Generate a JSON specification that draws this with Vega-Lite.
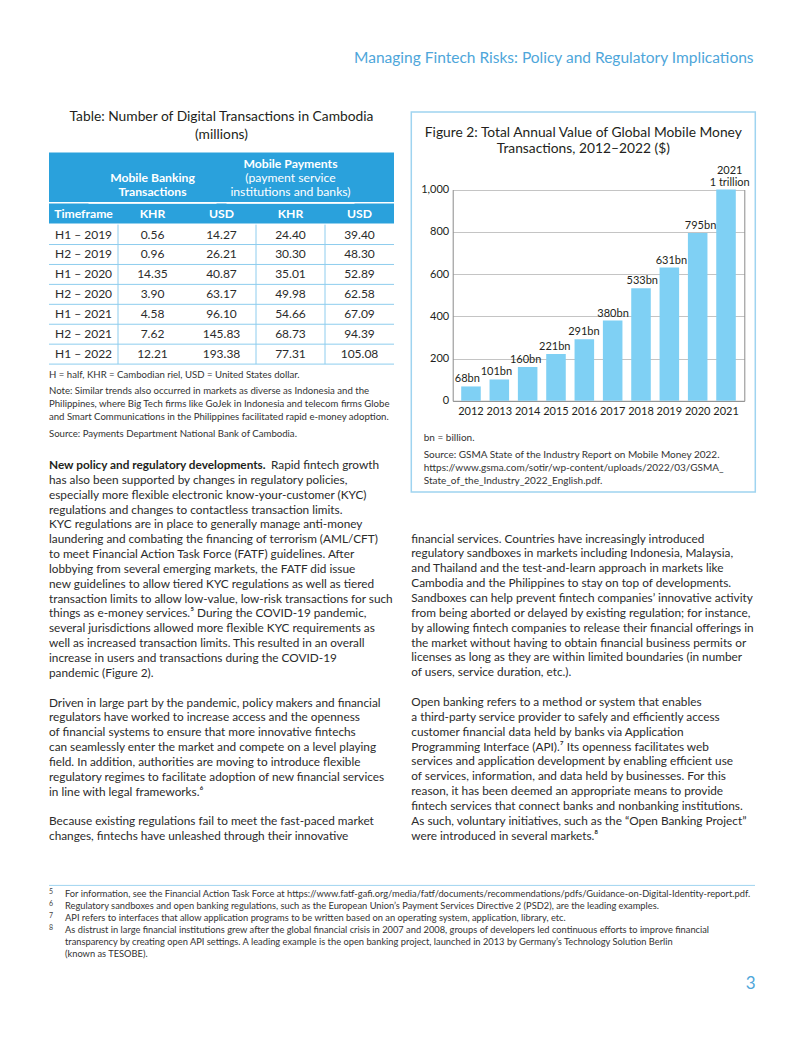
{
  "$schema": "https://vega.github.io/schema/vega-lite/v6.json",
  "background": "white",
  "padding": {"left": 48, "top": 50, "right": 0, "bottom": 0},
  "autosize": {"type": "pad"},
  "title": {"text": "Managing Fintech Risks: Policy and Regulatory Implications", "anchor": "end", "font": "Lato", "fontSize": 15.5, "fontWeight": "normal", "color": "#4ea6da", "baseline": "alphabetic", "offset": 31.6, "dx": -2.5},
  "config": {
    "view": {"stroke": null},
    "font": "Lato",
    "text": {"font": "Lato", "color": "#2b2b2b"},
    "axis": {"labelFont": "Lato"},
    "title": {"font": "Lato"}
  },
  "datasets": {
    "cambodia": [
      {"Timeframe": "H1 – 2019", "KHR_MB": 0.56, "USD_MB": 14.27, "KHR_MP": 24.40, "USD_MP": 39.40},
      {"Timeframe": "H2 – 2019", "KHR_MB": 0.96, "USD_MB": 26.21, "KHR_MP": 30.30, "USD_MP": 48.30},
      {"Timeframe": "H1 – 2020", "KHR_MB": 14.35, "USD_MB": 40.87, "KHR_MP": 35.01, "USD_MP": 52.89},
      {"Timeframe": "H2 – 2020", "KHR_MB": 3.90, "USD_MB": 63.17, "KHR_MP": 49.98, "USD_MP": 62.58},
      {"Timeframe": "H1 – 2021", "KHR_MB": 4.58, "USD_MB": 96.10, "KHR_MP": 54.66, "USD_MP": 67.09},
      {"Timeframe": "H2 – 2021", "KHR_MB": 7.62, "USD_MB": 145.83, "KHR_MP": 68.73, "USD_MP": 94.39},
      {"Timeframe": "H1 – 2022", "KHR_MB": 12.21, "USD_MB": 193.38, "KHR_MP": 77.31, "USD_MP": 105.08}
    ],
    "tableTitle": [
      {"line": "1", "text": "Table: Number of Digital Transactions in Cambodia"},
      {"line": "2", "text": "(millions)"}
    ],
    "groupHeads": [
      {"col": "KHR_MB", "line": "2", "kind": "heading", "text": "Mobile Banking"},
      {"col": "KHR_MB", "line": "3", "kind": "heading", "text": "Transactions"},
      {"col": "KHR_MP", "line": "1", "kind": "heading", "text": "Mobile Payments"},
      {"col": "KHR_MP", "line": "2", "kind": "sub", "text": "(payment service"},
      {"col": "KHR_MP", "line": "3", "kind": "sub", "text": "institutions and banks)"}
    ],
    "colHeads": [
      {"col": "Timeframe", "label": "Timeframe"},
      {"col": "KHR_MB", "label": "KHR"},
      {"col": "USD_MB", "label": "USD"},
      {"col": "KHR_MP", "label": "KHR"},
      {"col": "USD_MP", "label": "USD"}
    ],
    "tableNotes": [
      {"para": 1, "line": "1", "text": "H = half, KHR = Cambodian riel, USD = United States dollar."},
      {"para": 2, "line": "1", "text": "Note: Similar trends also occurred in markets as diverse as Indonesia and the"},
      {"para": 2, "line": "2", "text": "Philippines, where Big Tech firms like GoJek in Indonesia and telecom firms Globe"},
      {"para": 2, "line": "3", "text": "and Smart Communications in the Philippines facilitated rapid e-money adoption."},
      {"para": 3, "line": "1", "text": "Source: Payments Department National Bank of Cambodia."}
    ],
    "mobileMoney": [
      {"year": "2012", "value": 68, "label": "68bn", "upper": ""},
      {"year": "2013", "value": 101, "label": "101bn", "upper": ""},
      {"year": "2014", "value": 160, "label": "160bn", "upper": ""},
      {"year": "2015", "value": 221, "label": "221bn", "upper": ""},
      {"year": "2016", "value": 291, "label": "291bn", "upper": ""},
      {"year": "2017", "value": 380, "label": "380bn", "upper": ""},
      {"year": "2018", "value": 533, "label": "533bn", "upper": ""},
      {"year": "2019", "value": 631, "label": "631bn", "upper": ""},
      {"year": "2020", "value": 795, "label": "795bn", "upper": ""},
      {"year": "2021", "value": 1000, "label": "1 trillion", "upper": "2021"}
    ],
    "figNotes": [
      {"para": 1, "line": "1", "text": "bn = billion."},
      {"para": 2, "line": "2", "text": "Source: GSMA State of the Industry Report on Mobile Money 2022."},
      {"para": 2, "line": "3", "text": "https://www.gsma.com/sotir/wp-content/uploads/2022/03/GSMA_"},
      {"para": 2, "line": "4", "text": "State_of_the_Industry_2022_English.pdf."}
    ],
    "bodyLeft": [
      {"line": 1, "part": "bold", "text": "New policy and regulatory developments."},
      {"line": 1, "part": "cont", "text": "Rapid fintech growth"},
      {"line": 2, "part": "main", "text": "has also been supported by changes in regulatory policies,"},
      {"line": 3, "part": "main", "text": "especially more flexible electronic know-your-customer (KYC)"},
      {"line": 4, "part": "main", "text": "regulations and changes to contactless transaction limits."},
      {"line": 5, "part": "main", "text": "KYC regulations are in place to generally manage anti-money"},
      {"line": 6, "part": "main", "text": "laundering and combating the financing of terrorism (AML/CFT)"},
      {"line": 7, "part": "main", "text": "to meet Financial Action Task Force (FATF) guidelines. After"},
      {"line": 8, "part": "main", "text": "lobbying from several emerging markets, the FATF did issue"},
      {"line": 9, "part": "main", "text": "new guidelines to allow tiered KYC regulations as well as tiered"},
      {"line": 10, "part": "main", "text": "transaction limits to allow low-value, low-risk transactions for such"},
      {"line": 11, "part": "main", "text": "things as e-money services.⁵ During the COVID-19 pandemic,"},
      {"line": 12, "part": "main", "text": "several jurisdictions allowed more flexible KYC requirements as"},
      {"line": 13, "part": "main", "text": "well as increased transaction limits. This resulted in an overall"},
      {"line": 14, "part": "main", "text": "increase in users and transactions during the COVID-19"},
      {"line": 15, "part": "main", "text": "pandemic (Figure 2)."},
      {"line": 16, "part": "main", "text": ""},
      {"line": 17, "part": "main", "text": "Driven in large part by the pandemic, policy makers and financial"},
      {"line": 18, "part": "main", "text": "regulators have worked to increase access and the openness"},
      {"line": 19, "part": "main", "text": "of financial systems to ensure that more innovative fintechs"},
      {"line": 20, "part": "main", "text": "can seamlessly enter the market and compete on a level playing"},
      {"line": 21, "part": "main", "text": "field. In addition, authorities are moving to introduce flexible"},
      {"line": 22, "part": "main", "text": "regulatory regimes to facilitate adoption of new financial services"},
      {"line": 23, "part": "main", "text": "in line with legal frameworks.⁶"},
      {"line": 24, "part": "main", "text": ""},
      {"line": 25, "part": "main", "text": "Because existing regulations fail to meet the fast-paced market"},
      {"line": 26, "part": "main", "text": "changes, fintechs have unleashed through their innovative"}
    ],
    "bodyRight": [
      {"line": 1, "text": "financial services. Countries have increasingly introduced"},
      {"line": 2, "text": "regulatory sandboxes in markets including Indonesia, Malaysia,"},
      {"line": 3, "text": "and Thailand and the test-and-learn approach in markets like"},
      {"line": 4, "text": "Cambodia and the Philippines to stay on top of developments."},
      {"line": 5, "text": "Sandboxes can help prevent fintech companies’ innovative activity"},
      {"line": 6, "text": "from being aborted or delayed by existing regulation; for instance,"},
      {"line": 7, "text": "by allowing fintech companies to release their financial offerings in"},
      {"line": 8, "text": "the market without having to obtain financial business permits or"},
      {"line": 9, "text": "licenses as long as they are within limited boundaries (in number"},
      {"line": 10, "text": "of users, service duration, etc.)."},
      {"line": 11, "text": ""},
      {"line": 12, "text": "Open banking refers to a method or system that enables"},
      {"line": 13, "text": "a third-party service provider to safely and efficiently access"},
      {"line": 14, "text": "customer financial data held by banks via Application"},
      {"line": 15, "text": "Programming Interface (API).⁷ Its openness facilitates web"},
      {"line": 16, "text": "services and application development by enabling efficient use"},
      {"line": 17, "text": "of services, information, and data held by businesses. For this"},
      {"line": 18, "text": "reason, it has been deemed an appropriate means to provide"},
      {"line": 19, "text": "fintech services that connect banks and nonbanking institutions."},
      {"line": 20, "text": "As such, voluntary initiatives, such as the “Open Banking Project”"},
      {"line": 21, "text": "were introduced in several markets.⁸"}
    ],
    "footnotes": [
      {"line": "1", "num": "5", "text": "For information, see the Financial Action Task Force at https://www.fatf-gafi.org/media/fatf/documents/recommendations/pdfs/Guidance-on-Digital-Identity-report.pdf."},
      {"line": "2", "num": "6", "text": "Regulatory sandboxes and open banking regulations, such as the European Union’s Payment Services Directive 2 (PSD2), are the leading examples."},
      {"line": "3", "num": "7", "text": "API refers to interfaces that allow application programs to be written based on an operating system, application, library, etc."},
      {"line": "4", "num": "8", "text": "As distrust in large financial institutions grew after the global financial crisis in 2007 and 2008, groups of developers led continuous efforts to improve financial"},
      {"line": "5", "num": "", "text": "transparency by creating open API settings. A leading example is the open banking project, launched in 2013 by Germany’s Technology Solution Berlin"},
      {"line": "6", "num": "", "text": "(known as TESOBE)."}
    ]
  },
  "spacing": 32.4,
  "vconcat": [
    {
      "spacing": 15.3,
      "hconcat": [
        {
          "spacing": 16.6,
          "vconcat": [
            {
              "spacing": 3.3,
              "vconcat": [
                {
                  "spacing": 10.6,
                  "vconcat": [
                    {
                      "width": 345, "height": 27.6,
                      "data": {"name": "tableTitle"},
                      "mark": {"type": "text", "fontSize": 13.8, "color": "#231f20", "baseline": "middle", "align": "center"},
                      "encoding": {
                        "x": {"datum": "title", "type": "nominal", "scale": {"type": "band", "paddingInner": 0, "paddingOuter": 0}, "axis": null},
                        "y": {"field": "line", "type": "ordinal", "scale": {"type": "point", "padding": 0.284}, "axis": null},
                        "text": {"field": "text"}
                      }
                    },
                    {
                      "spacing": 0,
                      "vconcat": [
                        {
                          "width": 345, "height": 49.4,
                          "view": {"fill": "#2aa1dc", "stroke": null},
                          "data": {"name": "groupHeads"},
                          "encoding": {
                            "x": {"field": "col", "type": "nominal", "bandPosition": 1, "scale": {"domain": ["Timeframe", "KHR_MB", "USD_MB", "KHR_MP", "USD_MP"], "paddingInner": 0, "paddingOuter": 0}, "axis": null},
                            "y": {"field": "line", "type": "ordinal", "scale": {"type": "point", "domain": ["1", "2", "3"], "padding": 0.746, "align": 0.52}, "axis": null},
                            "text": {"field": "text"}
                          },
                          "layer": [
                            {"transform": [{"filter": "datum.kind === 'heading'"}], "mark": {"type": "text", "color": "white", "fontWeight": "bold", "fontSize": 12.2, "align": "center", "baseline": "middle"}},
                            {"transform": [{"filter": "datum.kind === 'sub'"}], "mark": {"type": "text", "color": "white", "fontSize": 12.2, "align": "center", "baseline": "middle"}}
                          ]
                        },
                        {
                          "width": 345, "height": 20,
                          "view": {"fill": "#2aa1dc", "stroke": null},
                          "layer": [
                            {
                              "data": {"name": "groupHeads"},
                              "transform": [{"filter": "datum.line === '3'"}],
                              "mark": {"type": "tick", "orient": "horizontal", "color": "white", "size": 128, "thickness": 1},
                              "encoding": {
                                "x": {"field": "col", "type": "nominal", "bandPosition": 1, "scale": {"domain": ["Timeframe", "KHR_MB", "USD_MB", "KHR_MP", "USD_MP"], "paddingInner": 0, "paddingOuter": 0}, "axis": null},
                                "y": {"datum": "sub", "type": "nominal", "bandPosition": 0, "scale": {"type": "band", "paddingInner": 0, "paddingOuter": 0}, "axis": null}
                              }
                            },
                            {
                              "data": {"name": "colHeads"},
                              "mark": {"type": "text", "color": "white", "fontWeight": "bold", "fontSize": 12.2, "align": "center", "baseline": "middle"},
                              "encoding": {
                                "x": {"field": "col", "type": "nominal", "scale": {"domain": ["Timeframe", "KHR_MB", "USD_MB", "KHR_MP", "USD_MP"], "paddingInner": 0, "paddingOuter": 0}, "axis": null},
                                "y": {"datum": "sub", "type": "nominal", "scale": {"type": "band", "paddingInner": 0, "paddingOuter": 0}, "axis": null},
                                "text": {"field": "label"}
                              }
                            }
                          ]
                        },
                        {
                          "width": 345, "height": 139.5,
                          "data": {"name": "cambodia"},
                          "layer": [
                            {
                              "mark": {"type": "rule", "color": "#8ecdee", "strokeWidth": 1},
                              "encoding": {
                                "y": {"field": "Timeframe", "type": "ordinal", "bandPosition": 1, "scale": {"domain": ["H1 – 2019", "H2 – 2019", "H1 – 2020", "H2 – 2020", "H1 – 2021", "H2 – 2021", "H1 – 2022"], "paddingInner": 0, "paddingOuter": 0}, "axis": null}
                              }
                            },
                            {
                              "transform": [
                                {"fold": ["KHR_MB", "USD_MB", "KHR_MP", "USD_MP"], "as": ["col", "val"]},
                                {"filter": {"field": "col", "oneOf": ["KHR_MB", "KHR_MP", "USD_MP"]}},
                                {"aggregate": [{"op": "count", "as": "n"}], "groupby": ["col"]}
                              ],
                              "mark": {"type": "rule", "color": "#8ecdee", "strokeWidth": 1},
                              "encoding": {
                                "x": {"field": "col", "type": "nominal", "bandPosition": 0, "scale": {"domain": ["Timeframe", "KHR_MB", "USD_MB", "KHR_MP", "USD_MP"], "paddingInner": 0, "paddingOuter": 0}, "axis": null}
                              }
                            },
                            {
                              "mark": {"type": "text", "align": "left", "dx": 6, "fontSize": 12, "baseline": "middle", "color": "#2b2b2b"},
                              "encoding": {
                                "x": {"datum": "Timeframe", "type": "nominal", "bandPosition": 0, "scale": {"domain": ["Timeframe", "KHR_MB", "USD_MB", "KHR_MP", "USD_MP"], "paddingInner": 0, "paddingOuter": 0}, "axis": null},
                                "y": {"field": "Timeframe", "type": "ordinal", "scale": {"domain": ["H1 – 2019", "H2 – 2019", "H1 – 2020", "H2 – 2020", "H1 – 2021", "H2 – 2021", "H1 – 2022"], "paddingInner": 0, "paddingOuter": 0}, "axis": null},
                                "text": {"field": "Timeframe"}
                              }
                            },
                            {
                              "transform": [{"fold": ["KHR_MB", "USD_MB", "KHR_MP", "USD_MP"], "as": ["col", "val"]}],
                              "mark": {"type": "text", "align": "center", "fontSize": 12, "baseline": "middle", "color": "#2b2b2b"},
                              "encoding": {
                                "x": {"field": "col", "type": "nominal", "scale": {"domain": ["Timeframe", "KHR_MB", "USD_MB", "KHR_MP", "USD_MP"], "paddingInner": 0, "paddingOuter": 0}, "axis": null},
                                "y": {"field": "Timeframe", "type": "ordinal", "scale": {"domain": ["H1 – 2019", "H2 – 2019", "H1 – 2020", "H2 – 2020", "H1 – 2021", "H2 – 2021", "H1 – 2022"], "paddingInner": 0, "paddingOuter": 0}, "axis": null},
                                "text": {"field": "val", "type": "quantitative", "format": ".2f"}
                              }
                            }
                          ]
                        }
                      ]
                    }
                  ]
                },
                {
                  "spacing": 3.5,
                  "vconcat": [
                    {
                      "width": 345, "height": 13,
                      "data": {"name": "tableNotes"},
                      "transform": [{"filter": "datum.para === 1"}],
                      "mark": {"type": "text", "align": "left", "baseline": "middle", "fontSize": 9.6, "color": "#333333"},
                      "encoding": {
                        "x": {"datum": "left", "type": "nominal", "bandPosition": 0, "scale": {"type": "band", "paddingInner": 0, "paddingOuter": 0}, "axis": null},
                        "y": {"field": "line", "type": "ordinal", "scale": {"paddingInner": 0, "paddingOuter": 0}, "axis": null}, "text": {"field": "text"}}
                    },
                    {
                      "width": 345, "height": 39,
                      "data": {"name": "tableNotes"},
                      "transform": [{"filter": "datum.para === 2"}],
                      "mark": {"type": "text", "align": "left", "baseline": "middle", "fontSize": 9.6, "color": "#333333"},
                      "encoding": {
                        "x": {"datum": "left", "type": "nominal", "bandPosition": 0, "scale": {"type": "band", "paddingInner": 0, "paddingOuter": 0}, "axis": null},
                        "y": {"field": "line", "type": "ordinal", "scale": {"paddingInner": 0, "paddingOuter": 0}, "axis": null}, "text": {"field": "text"}}
                    },
                    {
                      "width": 345, "height": 13,
                      "data": {"name": "tableNotes"},
                      "transform": [{"filter": "datum.para === 3"}],
                      "mark": {"type": "text", "align": "left", "baseline": "middle", "fontSize": 9.6, "color": "#333333"},
                      "encoding": {
                        "x": {"datum": "left", "type": "nominal", "bandPosition": 0, "scale": {"type": "band", "paddingInner": 0, "paddingOuter": 0}, "axis": null},
                        "y": {"field": "line", "type": "ordinal", "scale": {"paddingInner": 0, "paddingOuter": 0}, "axis": null}, "text": {"field": "text"}}
                    }
                  ]
                }
              ]
            },
            {
              "width": 345, "height": 386,
              "data": {"name": "bodyLeft"},
              "encoding": {
                "x": {"datum": "left", "type": "nominal", "bandPosition": 0, "scale": {"type": "band", "paddingInner": 0, "paddingOuter": 0}, "axis": null},
                "y": {"field": "line", "type": "ordinal", "scale": {"paddingInner": 0, "paddingOuter": 0}, "axis": null},
                "text": {"field": "text"}
              },
              "layer": [
                {"transform": [{"filter": "datum.part === 'bold'"}], "mark": {"type": "text", "align": "left", "baseline": "middle", "fontSize": 11.8, "fontWeight": "bold", "color": "#231f20"}},
                {"transform": [{"filter": "datum.part === 'cont'"}], "mark": {"type": "text", "align": "left", "baseline": "middle", "fontSize": 11.8, "dx": 222, "color": "#2b2b2b"}},
                {"transform": [{"filter": "datum.part === 'main'"}], "mark": {"type": "text", "align": "left", "baseline": "middle", "fontSize": 11.8, "color": "#2b2b2b"}}
              ]
            }
          ]
        },
        {
          "spacing": 38.15,
          "vconcat": [
            {
              "width": 344, "height": 380,
              "view": {"stroke": "#9fd4f0", "strokeWidth": 1.5},
              "title": {"text": ["Figure 2: Total Annual Value of Global Mobile Money", "Transactions, 2012–2022 ($)"], "fontSize": 13.8, "fontWeight": "normal", "color": "#231f20", "baseline": "top", "offset": -44, "lineHeight": 16},
              "layer": [
                {
                  "data": {"name": "mobileMoney"},
                  "mark": {"type": "bar", "color": "#7fd0f4"},
                  "encoding": {
                    "x": {"field": "year", "type": "nominal", "scale": {"range": [41.4, 333], "paddingInner": 0.31, "paddingOuter": 0.3},
                      "axis": {"orient": "bottom", "offset": -91.2, "title": null, "labelAngle": 0, "ticks": false, "labelPadding": 5, "labelFontSize": 11, "labelColor": "#231f20", "domainColor": "#8a8a8a"}},
                    "y": {"field": "value", "type": "quantitative", "scale": {"domain": [0, 1000], "nice": false, "range": [288.8, 77.6]},
                      "axis": {"orient": "left", "offset": -41.4, "title": null, "values": [0, 200, 400, 600, 800, 1000], "format": ",d", "ticks": false, "labelPadding": 4, "labelFontSize": 11, "labelColor": "#231f20", "domainColor": "#8a8a8a", "grid": true, "gridColor": "#c4c4c4"}}
                  }
                },
                {
                  "data": {"name": "mobileMoney"},
                  "mark": {"type": "text", "baseline": "bottom", "dy": -2, "fontSize": 11, "color": "#231f20"},
                  "encoding": {
                    "x": {"field": "year", "type": "nominal", "scale": {"range": [41.4, 333], "paddingInner": 0.31, "paddingOuter": 0.3}, "axis": null},
                    "y": {"field": "value", "type": "quantitative", "scale": {"domain": [0, 1000], "nice": false, "range": [288.8, 77.6]},
                      "axis": {"orient": "right", "offset": -11, "title": null, "labels": false, "ticks": false, "grid": false, "domainColor": "#8a8a8a"}},
                    "text": {"field": "label"}
                  }
                },
                {
                  "data": {"name": "mobileMoney"},
                  "transform": [{"filter": "datum.upper !== ''"}],
                  "mark": {"type": "text", "baseline": "bottom", "dy": -13.5, "fontSize": 11, "color": "#231f20"},
                  "encoding": {
                    "x": {"field": "year", "type": "nominal", "scale": {"domain": ["2012", "2013", "2014", "2015", "2016", "2017", "2018", "2019", "2020", "2021"], "range": [41.4, 333], "paddingInner": 0.31, "paddingOuter": 0.3}, "axis": null},
                    "y": {"field": "value", "type": "quantitative", "scale": {"domain": [0, 1000], "nice": false, "range": [288.8, 77.6]}, "axis": null},
                    "text": {"field": "upper"}
                  }
                },
                {
                  "data": {"name": "figNotes"},
                  "transform": [{"filter": "datum.para === 1"}],
                  "mark": {"type": "text", "align": "left", "baseline": "middle", "dx": 12.4, "fontSize": 10, "color": "#333333"},
                  "encoding": {
                    "x": {"datum": "left", "type": "nominal", "bandPosition": 0, "scale": {"type": "band", "paddingInner": 0, "paddingOuter": 0}, "axis": null},
                    "y": {"field": "line", "type": "ordinal", "scale": {"type": "point", "padding": 0, "range": [320, 332]}, "axis": null},
                    "text": {"field": "text"}
                  }
                },
                {
                  "data": {"name": "figNotes"},
                  "transform": [{"filter": "datum.para === 2"}],
                  "mark": {"type": "text", "align": "left", "baseline": "middle", "dx": 12.4, "fontSize": 10, "color": "#333333"},
                  "encoding": {
                    "x": {"datum": "left", "type": "nominal", "bandPosition": 0, "scale": {"type": "band", "paddingInner": 0, "paddingOuter": 0}, "axis": null},
                    "y": {"field": "line", "type": "ordinal", "scale": {"type": "point", "padding": 0, "range": [342.6, 369.3]}, "axis": null},
                    "text": {"field": "text"}
                  }
                }
              ],
              "resolve": {"scale": {"x": "independent", "y": "independent"}, "axis": {"x": "independent", "y": "independent"}}
            },
            {
              "width": 344, "height": 312,
              "data": {"name": "bodyRight"},
              "mark": {"type": "text", "align": "left", "baseline": "middle", "fontSize": 11.8, "color": "#2b2b2b"},
              "encoding": {
                "x": {"datum": "left", "type": "nominal", "bandPosition": 0, "scale": {"type": "band", "paddingInner": 0, "paddingOuter": 0}, "axis": null},
                "y": {"field": "line", "type": "ordinal", "scale": {"paddingInner": 0, "paddingOuter": 0}, "axis": null},
                "text": {"field": "text"}
              }
            }
          ]
        }
      ]
    },
    {
      "width": 706, "height": 84,
      "data": {"name": "footnotes"},
      "title": {"text": "3", "orient": "bottom", "anchor": "end", "fontSize": 17, "fontWeight": "normal", "color": "#4ea6da", "baseline": "top", "offset": 15.5},
      "encoding": {
        "x": {"datum": "left", "type": "nominal", "bandPosition": 0, "scale": {"type": "band", "paddingInner": 0, "paddingOuter": 0}, "axis": null}
      },
      "layer": [
        {
          "transform": [{"filter": "datum.line === '1'"}],
          "mark": {"type": "rule", "color": "#9fd4f0", "strokeWidth": 1},
          "encoding": {
            "x": null,
            "y": {"datum": "sep", "type": "ordinal", "bandPosition": 0.75, "scale": {"domain": ["sep", "1", "2", "3", "4", "5", "6"], "paddingInner": 0, "paddingOuter": 0}, "axis": null}}
        },
        {
          "mark": {"type": "text", "align": "left", "baseline": "middle", "fontSize": 7, "dy": -2, "color": "#444444"},
          "encoding": {"y": {"field": "line", "type": "ordinal", "scale": {"domain": ["sep", "1", "2", "3", "4", "5", "6"], "paddingInner": 0, "paddingOuter": 0}, "axis": null}, "text": {"field": "num"}}
        },
        {
          "mark": {"type": "text", "align": "left", "baseline": "middle", "fontSize": 9.3, "dx": 16, "color": "#333333"},
          "encoding": {"y": {"field": "line", "type": "ordinal", "scale": {"domain": ["sep", "1", "2", "3", "4", "5", "6"], "paddingInner": 0, "paddingOuter": 0}, "axis": null}, "text": {"field": "text"}}
        }
      ]
    }
  ]
}
